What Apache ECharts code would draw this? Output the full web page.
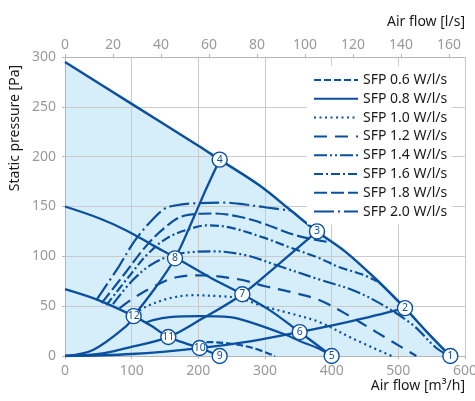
<!DOCTYPE html>
<html><head><meta charset="utf-8">
<script src="https://cdn.jsdelivr.net/npm/echarts@6/dist/echarts.min.js"></script>
<style>html,body{margin:0;padding:0;background:#fff}#c{width:475px;height:401px}</style>
</head><body><div id="c"></div>
<script>
// ---- data (x: air flow m3/h, y: static pressure Pa) ----
const envelope = [[0,295],[100,253],[200,211],[232,197],[292,171],[337,147],[378,125],[420,105],[465,78],[510,48],[543,24],[578,0]];
const speedMid = [[0,150],[52,138],[92,126],[132,111],[165,99],[217,79],[266,62],[307,46],[352,24],[382,9],[400,0]];
const speedLow = [[0,67],[50,56],[103,40],[130,30],[155,19],[180,13],[202,8],[232,0]];
const systemA = [[0,0],[42,6],[92,30],[103,40],[135,68],[165,98],[195,142],[212,168],[232,197]];
const systemB = [[0,0],[50,2],[92,8],[155,19],[202,36],[266,62],[322,93],[378,125]];
const systemC = [[0,0],[100,2],[202,8],[280,15],[352,24],[430,35],[510,48]];
const sfp06 = [[198,10],[215,14],[252,12],[282,8],[315,0]];
const sfp08 = [[120,33],[132,36],[157,39],[202,40],[247,39],[282,33],[332,21],[352,15],[382,7],[400,0]];
const sfp10 = [[105,42],[120,49],[157,58],[192,61],[232,60],[262,58],[292,51],[342,42],[382,34],[430,18],[490,0]];
const sfp12 = [[82,48],[105,59],[137,71],[167,79],[200,81],[260,77],[300,70],[340,64],[382,56],[422,42],[467,24],[527,0]];
const sfp14 = [[72,52],[100,75],[130,92],[160,101],[185,104],[222,105],[272,101],[322,90],[385,76],[432,66],[477,51],[522,31],[557,8],[577,0]];
const sfp16 = [[62,51],[95,79],[125,103],[155,119],[185,127],[212,131],[247,129],[297,119],[337,109],[382,98],[412,89],[445,82],[468,75]];
const sfp18 = [[55,53],[90,83],[120,109],[150,129],[180,141],[222,143],[260,140],[297,133],[347,121],[398,114]];
const sfp20 = [[47,56],[80,89],[105,116],[130,136],[150,148],[165,151],[190,153],[237,154],[270,152],[302,149],[337,146]];
const sfpNames = ['SFP 0.6 W/l/s','SFP 0.8 W/l/s','SFP 1.0 W/l/s','SFP 1.2 W/l/s','SFP 1.4 W/l/s','SFP 1.6 W/l/s','SFP 1.8 W/l/s','SFP 2.0 W/l/s'];
const markerLabels = ['1','2','3','4','5','6','7','8','9','10','11','12'];
const markerPoints = [[578,0],[510,48],[378,125],[232,197],[400,0],[352,24],[266,62],[165,98],[232,0],[202,8],[155,19],[103,40]];
const xTicksM3h = [0,600,100];
const xTicksLs = [0,600/3.6,20];
const yTicks = [0,300,50];

const BLUE = '#0b4f9f';
const FONT = '"Noto Sans", sans-serif';

function curve(name, data, width, type, z) {
  return {name:name, type:'line', data:data, symbol:'none', showSymbol:false, smooth:0.35,
    lineStyle:{color:BLUE, width:width, type:type||'solid'}, itemStyle:{color:BLUE}, z:z||2, silent:true, animation:false};
}
const dashes = [[7,3],'solid',[2,3.5],[13,8],[13,3,2,3,2,3],[9,3,2,3],[13,4],[20,4,2,4]];
const sfpData = [sfp06,sfp08,sfp10,sfp12,sfp14,sfp16,sfp18,sfp20];

const series = [];
series.push({name:'area', type:'line', data:envelope, symbol:'none', smooth:0.35,
  lineStyle:{width:0}, areaStyle:{color:'#d5eefa', opacity:1}, z:0, silent:true, animation:false});
series.push(curve('envelope', envelope, 2.5));
series.push(curve('speedMid', speedMid, 2.3));
series.push(curve('speedLow', speedLow, 2.3));
series.push(curve('systemA', systemA, 2.3));
series.push(curve('systemB', systemB, 2.3));
series.push(curve('systemC', systemC, 2.3));
sfpData.forEach((d,i)=>series.push(curve(sfpNames[i], d, 2.2, dashes[i])));
series.push({name:'points', type:'scatter', symbolSize:15, z:6, silent:true, animation:false,
  data: markerPoints.map((p,i)=>({name:markerLabels[i], value:p})),
  itemStyle:{color:'#fff', borderColor:BLUE, borderWidth:1.4, opacity:1},
  label:{show:true, position:'inside', formatter:'{b}', color:BLUE, fontSize:10.5, fontFamily:FONT}});

const axisLineStyle = {color:'#b5b5b5', width:1};
const labelStyle = {color:'#9a9a9a', fontSize:14, fontFamily:FONT};
const chart = echarts.init(document.getElementById('c'), null, {renderer:'canvas'});
chart.setOption({
  animation:false,
  backgroundColor:'#fff',
  grid:{left:65, right:10, top:57, bottom:45, containLabel:false, outerBoundsMode:'none'},
  xAxis:[
    {type:'value', position:'bottom', min:xTicksM3h[0], max:xTicksM3h[1], interval:xTicksM3h[2], z:1,
     axisLine:{show:true, lineStyle:axisLineStyle}, axisTick:{show:true, length:3, lineStyle:axisLineStyle},
     axisLabel:Object.assign({margin:8}, labelStyle), splitLine:{show:true, lineStyle:{color:'#cacaca', width:1}}},
    {type:'value', position:'top', min:xTicksLs[0], max:xTicksLs[1], interval:xTicksLs[2], z:1,
     axisLine:{show:true, lineStyle:axisLineStyle}, axisTick:{show:true, length:3, lineStyle:axisLineStyle},
     axisLabel:Object.assign({margin:5, showMaxLabel:false}, labelStyle), splitLine:{show:false}}
  ],
  yAxis:{type:'value', min:yTicks[0], max:yTicks[1], interval:yTicks[2], z:1,
     axisLine:{show:true, lineStyle:axisLineStyle}, axisTick:{show:true, length:3, lineStyle:axisLineStyle},
     axisLabel:Object.assign({margin:9}, labelStyle), splitLine:{show:true, lineStyle:{color:'#cacaca', width:1}}},
  legend:{orient:'vertical', left:307, top:66, backgroundColor:'#fff', padding:[7,5,6,6],
    itemWidth:44, itemHeight:14, itemGap:4.8, data:sfpNames, selectedMode:false,
    itemStyle:{color:'rgba(0,0,0,0)', borderColor:'rgba(0,0,0,0)', borderWidth:0},
    textStyle:{fontSize:14, color:'#1a1a1a', fontFamily:FONT}},
  graphic:[
    {type:'text', x:15, y:128, rotation:Math.PI/2, style:{text:'Static pressure [Pa]', fill:'#1a1a1a', font:'14px "Noto Sans"', align:'center', verticalAlign:'middle'}},
    {type:'text', x:465, y:22, style:{text:'Air flow [l/s]', fill:'#1a1a1a', font:'14px "Noto Sans"', align:'right', verticalAlign:'middle'}},
    {type:'text', x:465, y:386, style:{text:'Air flow [m³/h]', fill:'#1a1a1a', font:'14px "Noto Sans"', align:'right', verticalAlign:'middle'}}
  ],
  series:series
});
</script></body></html>
